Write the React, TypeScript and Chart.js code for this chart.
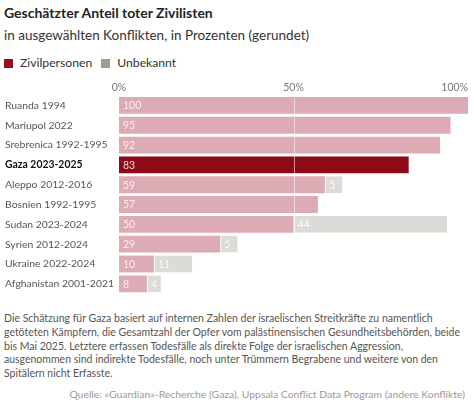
import React, { useEffect, useRef } from "react";
import { Chart, registerables } from "chart.js";

Chart.register(...registerables);

const categories = [
  "Ruanda 1994",
  "Mariupol 2022",
  "Srebrenica 1992-1995",
  "Gaza 2023-2025",
  "Aleppo 2012-2016",
  "Bosnien 1992-1995",
  "Sudan 2023-2024",
  "Syrien 2012-2024",
  "Ukraine 2022-2024",
  "Afghanistan 2001-2021",
];
const civilians = [100, 95, 92, 83, 59, 57, 50, 29, 10, 8];
const unknown = [0, 0, 0, 0, 5, 0, 44, 5, 11, 4];
const highlight = "Gaza 2023-2025";
const xTickValues = [0, 50, 100];
const xTickLabels = ["0%", "50%", "100%"];

const FONT = "Lato, 'Noto Sans', sans-serif";
const PINK = "#dcabb4";
const DARK = "#8e0a17";
const GRAY = "#dddbd7";

const overlayPlugin = {
  id: "overlay",
  afterDatasetsDraw(chart: any) {
    const ctx = chart.ctx;
    const x = chart.scales.x;
    const area = chart.chartArea;
    ctx.save();
    const px = Math.round(x.getPixelForValue(50)) + 0.5;
    ctx.strokeStyle = "rgba(255,255,255,0.55)";
    ctx.lineWidth = 1;
    ctx.beginPath();
    ctx.moveTo(px, area.top);
    ctx.lineTo(px, area.bottom);
    ctx.stroke();
    ctx.font = `10.5px ${FONT}`;
    ctx.textBaseline = "middle";
    ctx.textAlign = "left";
    chart.data.datasets.forEach((ds: any, di: number) => {
      const meta = chart.getDatasetMeta(di);
      meta.data.forEach((bar: any, i: number) => {
        const v = ds.data[i];
        if (!v) return;
        const left = Math.min(bar.x, bar.base);
        const isHi = categories[i] === highlight;
        ctx.fillStyle = isHi ? "rgba(255,215,220,0.95)" : "rgba(255,255,255,0.8)";
        ctx.fillText(String(v), left + 4, bar.y + 0.5);
      });
    });
    ctx.font = `10.5px ${FONT}`;
    ctx.fillStyle = "#777";
    ctx.textBaseline = "middle";
    xTickValues.forEach((v, i) => {
      const p = x.getPixelForValue(v);
      ctx.textAlign = i === xTickValues.length - 1 ? "right" : "center";
      ctx.fillText(xTickLabels[i], p, area.top - 8);
    });
    ctx.restore();
  },
};

export default function App() {
  const ref = useRef<HTMLCanvasElement | null>(null);
  useEffect(() => {
    if (!ref.current) return;
    const chart = new Chart(ref.current, {
      type: "bar",
      data: {
        labels: categories,
        datasets: [
          {
            label: "Zivilpersonen",
            data: civilians,
            backgroundColor: categories.map((c) => (c === highlight ? DARK : PINK)),
            borderWidth: 0,
            borderSkipped: false,
            categoryPercentage: 1,
            barPercentage: 0.85,
          },
          {
            label: "Unbekannt",
            data: unknown,
            backgroundColor: GRAY,
            borderColor: "#ffffff",
            borderWidth: { left: 1, right: 0, top: 0, bottom: 0 },
            borderSkipped: false,
            categoryPercentage: 1,
            barPercentage: 0.85,
          },
        ],
      },
      options: {
        indexAxis: "y",
        responsive: false,
        animation: false,
        maintainAspectRatio: false,
        layout: { padding: { left: 5, right: 6, top: 19.5, bottom: 3.5 } },
        plugins: {
          legend: { display: false },
          tooltip: { enabled: false },
        },
        scales: {
          x: {
            stacked: true,
            min: 0,
            max: 100,
            display: false,
          },
          y: {
            stacked: true,
            grid: { display: false },
            border: { display: false },
            afterFit: (s: any) => {
              s.width = 114;
            },
            ticks: {
              crossAlign: "far",
              padding: 0,
              color: (c: any) => (categories[c.index] === highlight ? "#111" : "#555"),
              font: (c: any) => ({
                family: FONT,
                size: 10.4,
                weight: categories[c.index] === highlight ? "bold" : "normal",
              }),
            },
          },
        },
      },
      plugins: [overlayPlugin],
    } as any);
    return () => chart.destroy();
  }, []);

  const sq = (color: string) => (
    <span
      style={{
        display: "inline-block",
        width: 9,
        height: 9,
        background: color,
        marginRight: 7,
        verticalAlign: "-1px",
      }}
    />
  );

  return (
    <div
      style={{
        position: "absolute",
        left: 0,
        top: 0,
        width: 474,
        height: 417,
        background: "#fff",
        fontFamily: FONT,
        overflow: "hidden",
      }}
    >
      <div style={{ position: "absolute", left: 4, top: 4, fontSize: 14, fontWeight: "bold", color: "#222" }}>
        Geschätzter Anteil toter Zivilisten
      </div>
      <div style={{ position: "absolute", left: 4, top: 27, fontSize: 13.5, color: "#333" }}>
        in ausgewählten Konflikten, in Prozenten (gerundet)
      </div>
      <div style={{ position: "absolute", left: 4, top: 55, fontSize: 12.2, color: "#333", whiteSpace: "nowrap" }}>
        {sq("#9b0e1b")}
        <span>Zivilpersonen</span>
        <span style={{ display: "inline-block", width: 9 }} />
        {sq("#9c9e8b")}
        <span>Unbekannt</span>
      </div>
      <canvas
        ref={ref}
        width={474}
        height={224}
        style={{ position: "absolute", left: 0, top: 76, width: 474, height: 224 }}
      />
      <div
        style={{
          position: "absolute",
          left: 4,
          top: 312,
          fontSize: 10.5,
          lineHeight: "13.75px",
          color: "#555",
          whiteSpace: "nowrap",
        }}
      >
        Die Schätzung für Gaza basiert auf internen Zahlen der israelischen Streitkräfte zu namentlich
        <br />
        getöteten Kämpfern, die Gesamtzahl der Opfer vom palästinensischen Gesundheitsbehörden, beide
        <br />
        bis Mai 2025. Letztere erfassen Todesfälle als direkte Folge der israelischen Aggression,
        <br />
        ausgenommen sind indirekte Todesfälle, noch unter Trümmern Begrabene und weitere von den
        <br />
        Spitälern nicht Erfasste.
      </div>
      <div
        style={{
          position: "absolute",
          right: 9,
          top: 388,
          fontSize: 10.4,
          color: "#999",
          whiteSpace: "nowrap",
        }}
      >
        Quelle: «Guardian»-Recherche (Gaza), Uppsala Conflict Data Program (andere Konflikte)
      </div>
    </div>
  );
}
